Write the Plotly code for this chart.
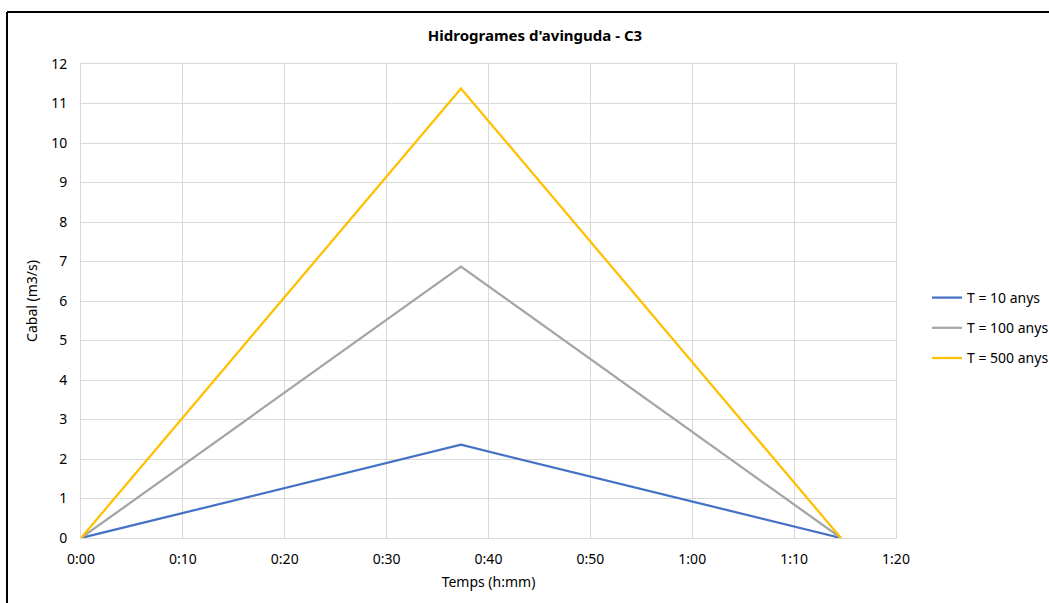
import plotly.graph_objects as go

# Data (time in minutes, flow in m3/s)
time_min = [0, 37.3, 74.6]
q_t10 = [0, 2.36, 0]
q_t100 = [0, 6.87, 0]
q_t500 = [0, 11.38, 0]
series_names = ["T = 10 anys", "T = 100 anys", "T = 500 anys"]
series_colors = ["#4472C4", "#A5A5A5", "#FFC000"]

x_tickvals = [0, 10, 20, 30, 40, 50, 60, 70, 80]
x_ticktext = ["0:00", "0:10", "0:20", "0:30", "0:40", "0:50", "1:00", "1:10", "1:20"]

FONT = "Noto Sans"
fig = go.Figure()
for name, ys, col in zip(series_names, [q_t10, q_t100, q_t500], series_colors):
    fig.add_trace(go.Scatter(x=time_min, y=ys, mode="lines", name=name, legendgroup=name,
                             line=dict(color=col, width=2.25)))

L, R, T, B = 81, 1049 - 896, 64, 603 - 538
pw, ph = 1049 - L - R, 603 - T - B
def px(p):
    return (p - L) / pw
def py(q):
    return (603 - B - q) / ph

fig.update_layout(
    width=1049, height=603,
    margin=dict(l=L, r=R, t=T, b=B, autoexpand=False),
    paper_bgcolor="white", plot_bgcolor="white",
    font=dict(family=FONT, size=13, color="#404040"),
    title=dict(text="<b>Hidrogrames d'avinguda - C3</b>", x=535/1049, xanchor="center",
               y=1 - 36/603, yanchor="middle", font=dict(size=15, color="#000000")),
    xaxis=dict(range=[0, 80], tickvals=x_tickvals, ticktext=x_ticktext,
               showgrid=True, gridcolor="#D9D9D9", gridwidth=1,
               zeroline=False, showline=True, linecolor="#D9D9D9", mirror=True,
               ticks="", ticklabelstandoff=8, tickfont=dict(size=14, color="#000000"),
               title=dict(text="Temps (h:mm)", font=dict(size=14, color="#000000"), standoff=10)),
    yaxis=dict(range=[0, 12], dtick=1, showgrid=True, gridcolor="#D9D9D9", gridwidth=1,
               zeroline=False, showline=True, linecolor="#D9D9D9", mirror=True,
               ticks="", ticklabelstandoff=10, tickfont=dict(size=14, color="#000000"),
               title=dict(text="Cabal (m3/s)", font=dict(size=14, color="#000000"), standoff=10)),
    legend=dict(x=px(927), y=py(328), xanchor="left", yanchor="middle",
                font=dict(size=14, color="#000000"), tracegroupgap=9, itemwidth=30,
                bgcolor="rgba(0,0,0,0)"),
    showlegend=True,
)

# chart frame (left and top edges)
fig.add_shape(type="line", xref="paper", yref="paper",
              x0=px(7), x1=px(7), y0=py(603), y1=py(12), line=dict(color="black", width=2))
fig.add_shape(type="line", xref="paper", yref="paper",
              x0=px(7), x1=px(1049), y0=py(12), y1=py(12), line=dict(color="black", width=2))

fig.write_html("out.html", config={"displayModeBar": False},
               post_script="document.body.style.margin='0';document.body.style.overflow='hidden';")
